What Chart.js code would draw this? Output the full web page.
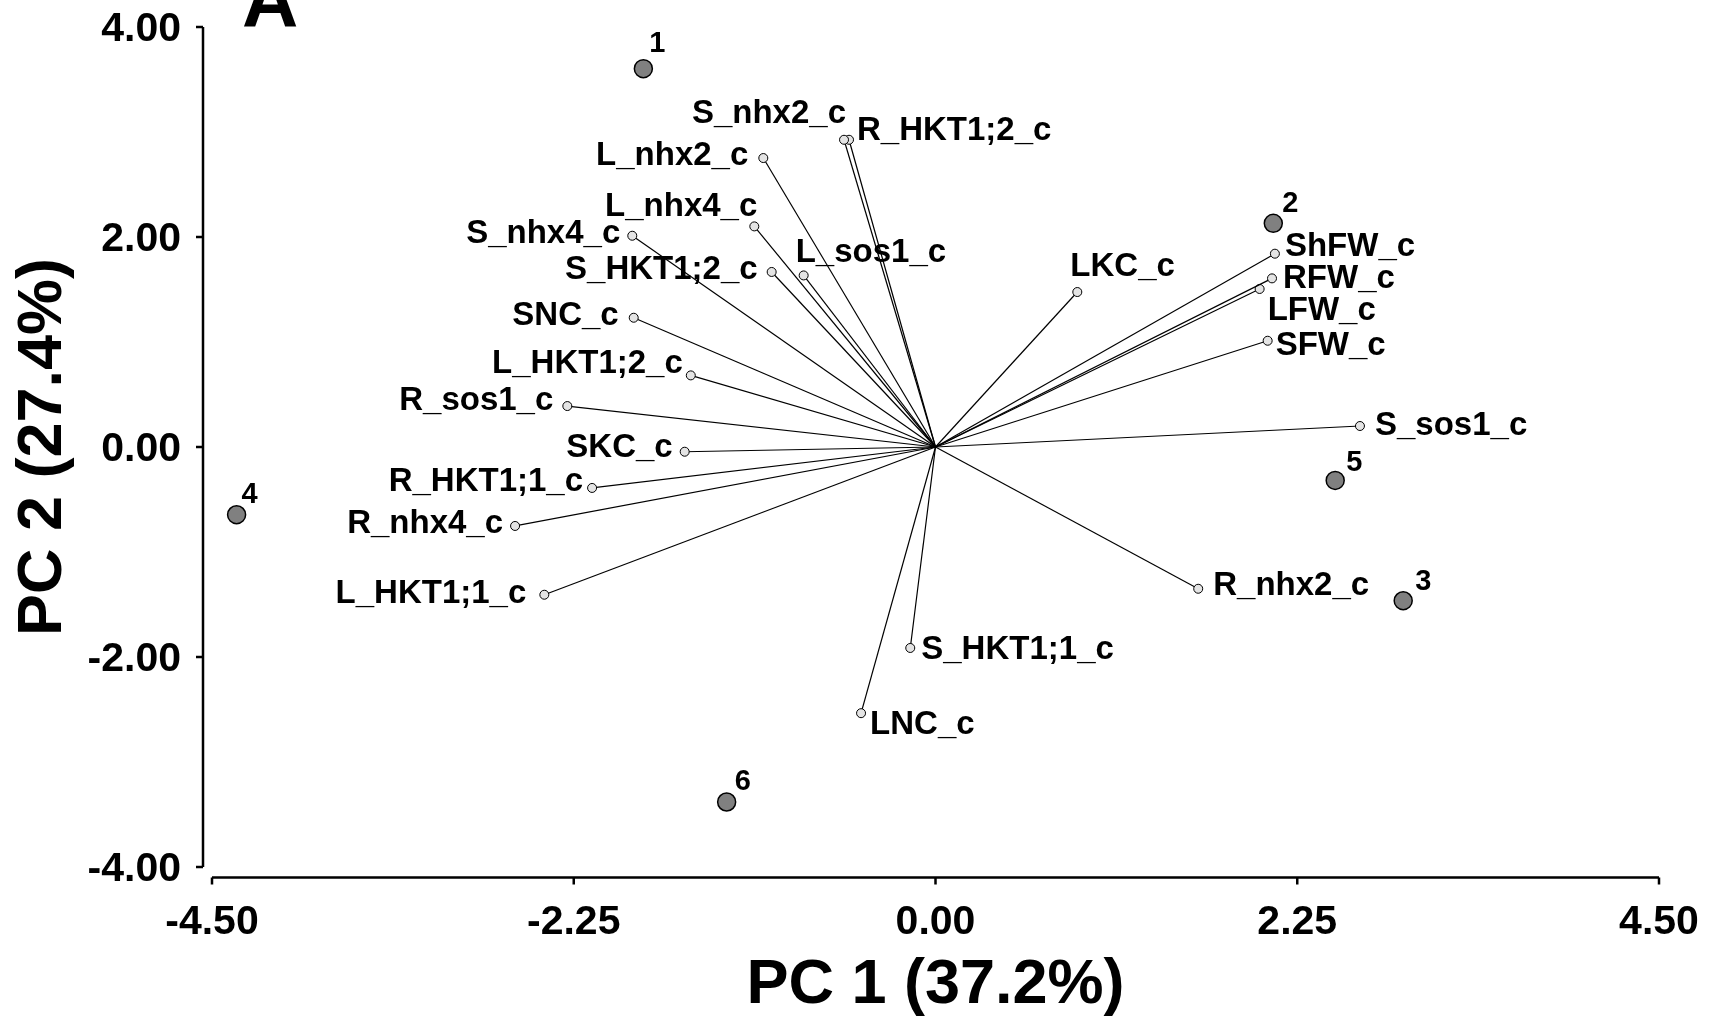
<!DOCTYPE html>
<html>
<head>
<meta charset="utf-8">
<title>PCA biplot</title>
<script src="https://cdn.jsdelivr.net/npm/chart.js@4.4.1/dist/chart.umd.min.js"></script>
<style>
    html, body { margin: 0; padding: 0; background: #fff; }
    #wrap { width: 1709px; height: 1031px; position: relative; }
</style>
</head>
<body>
<div id="wrap"><canvas id="biplot"></canvas></div>
<script>
// ===============================
// DATA
// ===============================
const varNames = [
    "S_nhx2_c", "R_HKT1;2_c", "L_nhx2_c", "L_nhx4_c", "S_nhx4_c", "S_HKT1;2_c",
    "L_sos1_c", "SNC_c", "L_HKT1;2_c", "R_sos1_c", "SKC_c", "R_HKT1;1_c",
    "R_nhx4_c", "L_HKT1;1_c", "S_HKT1;1_c", "LNC_c", "LKC_c", "ShFW_c",
    "RFW_c", "LFW_c", "SFW_c", "S_sos1_c", "R_nhx2_c"
];
const varPC1 = [
    -0.569, -0.538, -1.071, -1.127, -1.886, -1.019,
    -0.820, -1.877, -1.522, -2.290, -1.560, -2.136,
    -2.615, -2.433, -0.157, -0.463, 0.882, 2.111,
    2.093, 2.016, 2.066, 2.640, 1.634
];
const varPC2 = [
    2.926, 2.926, 2.752, 2.101, 2.012, 1.667,
    1.634, 1.231, 0.682, 0.390, -0.045, -0.390,
    -0.752, -1.407, -1.914, -2.535, 1.476, 1.841,
    1.606, 1.505, 1.012, 0.200, -1.350
];

const obsNames = ["1", "2", "3", "4", "5", "6"];
const obsPC1 = [-1.817, 2.101, 2.909, -4.347, 2.486, -1.299];
const obsPC2 = [3.603, 2.130, -1.464, -0.645, -0.318, -3.381];

const xTicks = [-4.5, -2.25, 0, 2.25, 4.5];
const xTickLabels = ["-4.50", "-2.25", "0.00", "2.25", "4.50"];
const yTicks = [4, 2, 0, -2, -4];
const yTickLabels = ["4.00", "2.00", "0.00", "-2.00", "-4.00"];

const xTitle = "PC 1 (37.2%)";
const yTitle = "PC 2 (27.4%)";
const panelLetter = "A";

// ===============================
// LABEL PLACEMENT (align, dx, dy from the marker, px)
// ===============================
const varLabelPlace = [
    ["right", 2, -17], ["left", 8, 0], ["right", -15, 7], ["right", 3, -10],
    ["right", -12, 7], ["right", -14, 7], ["left", -8, -13], ["right", -15, 7],
    ["right", -8, -2], ["right", -14, 4], ["right", -12, 5], ["right", -9, 3],
    ["right", -12, 7], ["right", -18, 8], ["left", 11, 11], ["left", 9, 21],
    ["left", -7, -16], ["left", 10, 2], ["left", 11, 10], ["left", 8, 31],
    ["left", 8, 14], ["left", 15, 9], ["left", 15, 6]
];
const obsLabelPlace = [[6, -17], [9, -11], [12, -11], [5, -12], [11, -9], [8, -12]];

const FONT = '"Liberation Sans", Arial, sans-serif';

// ===============================
// AXES + TEXT PLUGIN
// ===============================
const biplotDecor = {
    id: "biplotDecor",
    afterDatasetsDraw(chart) {
        const { ctx, scales: { x, y } } = chart;
        ctx.save();
        ctx.fillStyle = "#000";
        ctx.textBaseline = "alphabetic";

        // variable labels
        ctx.font = `bold 33px ${FONT}`;
        varNames.forEach((name, i) => {
            const [align, dx, dy] = varLabelPlace[i];
            ctx.textAlign = align;
            ctx.fillText(name, x.getPixelForValue(varPC1[i]) + dx, y.getPixelForValue(varPC2[i]) + dy);
        });

        // observation numbers
        ctx.font = `bold 29px ${FONT}`;
        ctx.textAlign = "left";
        obsNames.forEach((name, i) => {
            const [dx, dy] = obsLabelPlace[i];
            ctx.fillText(name, x.getPixelForValue(obsPC1[i]) + dx, y.getPixelForValue(obsPC2[i]) + dy);
        });
        ctx.restore();
    },
    afterDraw(chart) {
        const { ctx, scales: { x, y }, chartArea } = chart;
        const axisX = chartArea.left - 9;     // offset y axis line
        const axisY = chartArea.bottom + 10.5; // offset x axis line
        ctx.save();
        ctx.strokeStyle = "#000";
        ctx.lineWidth = 2.5;
        ctx.lineCap = "butt";

        // y axis
        ctx.beginPath();
        ctx.moveTo(axisX, y.getPixelForValue(yTicks[0]));
        ctx.lineTo(axisX, y.getPixelForValue(yTicks[yTicks.length - 1]));
        yTicks.forEach(v => {
            const py = y.getPixelForValue(v);
            ctx.moveTo(axisX, py);
            ctx.lineTo(axisX - 7, py);
        });
        ctx.stroke();

        // x axis
        ctx.beginPath();
        ctx.moveTo(x.getPixelForValue(xTicks[0]), axisY);
        ctx.lineTo(x.getPixelForValue(xTicks[xTicks.length - 1]), axisY);
        xTicks.forEach(v => {
            const px = x.getPixelForValue(v);
            ctx.moveTo(px, axisY);
            ctx.lineTo(px, axisY + 7);
        });
        ctx.stroke();

        // tick labels
        ctx.fillStyle = "#000";
        ctx.font = `bold 41px ${FONT}`;
        ctx.textBaseline = "alphabetic";
        ctx.textAlign = "right";
        yTicks.forEach((v, i) => {
            ctx.fillText(yTickLabels[i], axisX - 22, y.getPixelForValue(v) + 14);
        });
        ctx.textAlign = "center";
        xTicks.forEach((v, i) => {
            ctx.fillText(xTickLabels[i], x.getPixelForValue(v), axisY + 56);
        });

        // axis titles
        ctx.font = `bold 63px ${FONT}`;
        ctx.textAlign = "center";
        ctx.fillText(xTitle, x.getPixelForValue(0), 1003);
        ctx.save();
        ctx.translate(61, y.getPixelForValue(0));
        ctx.rotate(-Math.PI / 2);
        ctx.fillText(yTitle, 0, 0);
        ctx.restore();

        // panel letter, top is cut by the frame
        ctx.font = `bold 78px ${FONT}`;
        ctx.textAlign = "left";
        ctx.fillText(panelLetter, chartArea.left + 30, 27);
        ctx.restore();
    }
};

// ===============================
// CHART
// ===============================
function buildDatasets() {
    const obsSet = {
        label: "Observations",
        data: obsPC1.map((v, i) => ({ x: v, y: obsPC2[i] })),
        pointRadius: 9,
        pointBackgroundColor: "#808080",
        pointBorderColor: "#000",
        pointBorderWidth: 1.5,
        showLine: false,
        clip: false
    };

    const vectorSets = varNames.map((name, i) => ({
        label: name,
        data: [{ x: 0, y: 0 }, { x: varPC1[i], y: varPC2[i] }],
        showLine: true,
        borderColor: "#000",
        borderWidth: 1.2,
        pointRadius: [0, 4.5],
        pointBackgroundColor: "#e4e4e4",
        pointBorderColor: "#000",
        pointBorderWidth: 1,
        clip: false
    }));

    return [obsSet, ...vectorSets];
}

document.addEventListener("DOMContentLoaded", () => {
    const ctx = document.getElementById("biplot");
    new Chart(ctx, {
        type: "scatter",
        data: { datasets: buildDatasets() },
        options: {
            responsive: true,
            maintainAspectRatio: false,
            animation: false,
            layout: { padding: { left: 212, right: 50, top: 27, bottom: 164 } },
            plugins: {
                legend: { display: false },
                tooltip: { enabled: false }
            },
            scales: {
                x: { type: "linear", min: -4.5, max: 4.5, display: false },
                y: { type: "linear", min: -4, max: 4, display: false }
            }
        },
        plugins: [biplotDecor]
    });
});
</script>
</body>
</html>
